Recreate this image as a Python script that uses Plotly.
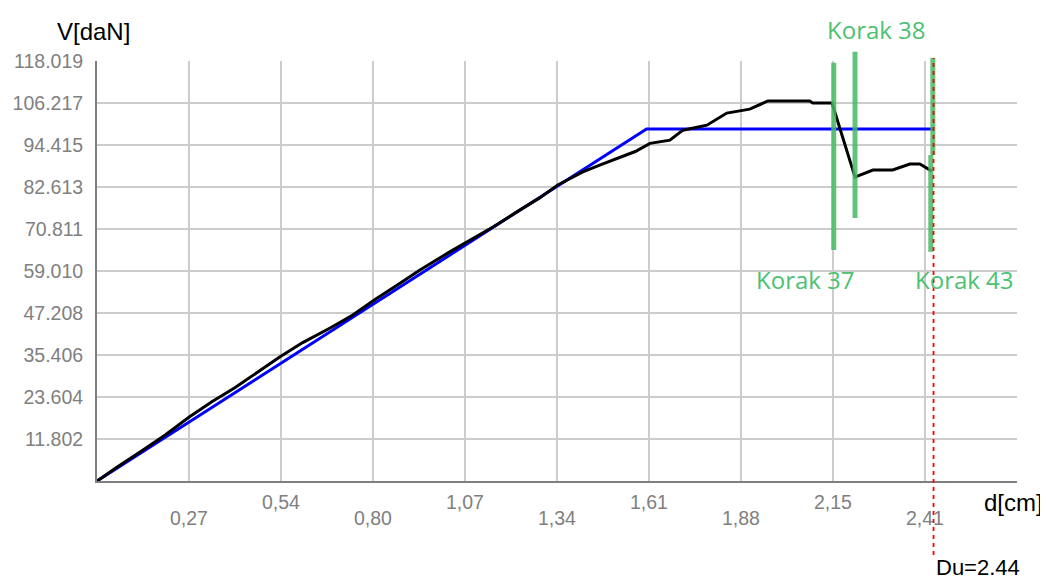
import plotly.graph_objects as go

# ---------------- data ----------------
x_max = 2.683
y_max = 118.019

x_tick_vals = [0.2683, 0.5366, 0.8049, 1.0732, 1.3415, 1.6098, 1.8781, 2.1464, 2.4147, 2.683]
x_tick_text = ["0,27", "0,54", "0,80", "1,07", "1,34", "1,61", "1,88", "2,15", "2,41", ""]

y_tick_vals = [11.8019, 23.6038, 35.4057, 47.2076, 59.0095, 70.8114, 82.6133, 94.4152, 106.2171, 118.019]
y_tick_text = ["11.802", "23.604", "35.406", "47.208", "59.010", "70.811", "82.613", "94.415", "106.217", "118.019"]

# measured (black) curve
test_d = [0.000, 0.060, 0.130, 0.200, 0.268, 0.335, 0.402, 0.470, 0.534, 0.600, 0.680,
          0.745, 0.811, 0.875, 0.942, 1.029, 1.090, 1.155, 1.234, 1.290, 1.344, 1.417,
          1.470, 1.516, 1.570, 1.613, 1.671, 1.709, 1.779, 1.837, 1.904, 1.957, 2.079,
          2.088, 2.144, 2.211, 2.263, 2.321, 2.371, 2.400, 2.435]
test_v = [0.0, 4.0, 8.4, 13.0, 17.9, 22.3, 26.2, 30.8, 34.9, 38.9, 43.0,
          46.6, 51.0, 55.0, 59.3, 64.4, 67.8, 71.4, 76.2, 79.5, 83.2, 86.9,
          88.9, 90.7, 92.6, 94.9, 95.8, 98.6, 100.0, 103.4, 104.5, 106.8, 106.8,
          106.2, 106.2, 85.4, 87.4, 87.4, 89.1, 89.1, 87.1]

# bilinear (blue) model
model_d = [0.0, 1.603, 2.44]
model_v = [0.0, 98.9, 98.9]

# steps
korak_labels = ["Korak 37", "Korak 38", "Korak 43"]
korak_d = [2.149, 2.211, 2.438]

du_value = 2.44
du_label = "Du=2.44"

x_title = "d[cm]"
y_title = "V[daN]"

# ---------------- figure ----------------
fig = go.Figure()

fig.add_trace(go.Scatter(x=model_d, y=model_v, mode="lines",
                         line=dict(color="#0000ff", width=3), showlegend=False,
                         hoverinfo="skip"))
fig.add_trace(go.Scatter(x=test_d, y=test_v, mode="lines",
                         line=dict(color="#000000", width=3), showlegend=False,
                         hoverinfo="skip"))

green = "rgba(70,185,100,0.85)"
green_txt = "#4cc172"

def vp(v):
    return v / y_max

shapes = []
seg = [
    (korak_d[0], 64.9, 117.5),
    (korak_d[1], 73.9, 120.6),
    (korak_d[2], 91.6, 118.9),
    (korak_d[2] - 0.006, 64.4, 91.6),
]
for x0, v0, v1 in seg:
    shapes.append(dict(type="line", xref="x", yref="paper", x0=x0, x1=x0,
                       y0=vp(v0), y1=vp(v1), line=dict(color=green, width=5), layer="above"))

shapes.append(dict(type="line", xref="x", yref="paper", x0=du_value, x1=du_value,
                   y0=-0.176, y1=1.007, line=dict(color="#ff0000", width=1.8, dash="4px,4px"),
                   layer="above"))

annotations = []
tick_font = dict(family="Liberation Sans, Arial, sans-serif", size=19.5, color="#808080")
for i, (xv, tt) in enumerate(zip(x_tick_vals, x_tick_text)):
    if not tt:
        continue
    yy = -0.088 if i % 2 == 0 else -0.049
    annotations.append(dict(x=xv, y=yy, xref="x", yref="paper", text=tt, showarrow=False,
                            xanchor="center", yanchor="middle", font=tick_font))

title_font = dict(family="Liberation Sans, Arial, sans-serif", size=24, color="#000000")
annotations.append(dict(x=0.962, y=-0.052, xref="paper", yref="paper", text=x_title,
                        showarrow=False, xanchor="left", yanchor="middle", font=title_font))
annotations.append(dict(x=-0.004, y=1.071, xref="paper", yref="paper", text=y_title,
                        showarrow=False, xanchor="center", yanchor="middle", font=title_font))
annotations.append(dict(x=du_value, y=-0.207, xref="x", yref="paper", text=du_label,
                        showarrow=False, xanchor="left", yanchor="middle",
                        font=dict(family="Liberation Sans, Arial, sans-serif", size=22, color="#000000")))

korak_font = dict(family="Open Sans, Noto Sans, sans-serif", size=24, color=green_txt)
korak_pos = [(2.068, 0.479), (2.275, 1.074), (2.531, 0.479)]
for lab, (kx, ky) in zip(korak_labels, korak_pos):
    annotations.append(dict(x=kx, y=ky, xref="x", yref="paper", text=lab, showarrow=False,
                            xanchor="center", yanchor="middle", font=korak_font))

fig.update_layout(
    width=1040, height=572,
    margin=dict(l=89, r=31, t=53, b=99, autoexpand=False),
    paper_bgcolor="white", plot_bgcolor="white",
    showlegend=False,
    shapes=shapes,
    annotations=annotations,
    xaxis=dict(range=[0, x_max + 0.0005], tickvals=x_tick_vals, ticktext=x_tick_text,
               showticklabels=False, showgrid=True, gridcolor="#cccccc", gridwidth=1.5,
               zeroline=False, showline=True, linecolor="#7f7f7f", linewidth=2, ticks="",
               automargin=False),
    yaxis=dict(range=[0, y_max + 0.02], tickvals=y_tick_vals, ticktext=y_tick_text,
               showgrid=True, gridcolor="#cccccc", gridwidth=1.5,
               zeroline=False, showline=True, linecolor="#7f7f7f", linewidth=2, ticks="",
               ticklabelstandoff=8, tickfont=tick_font, automargin=False),
)

fig.write_html("out.html")
